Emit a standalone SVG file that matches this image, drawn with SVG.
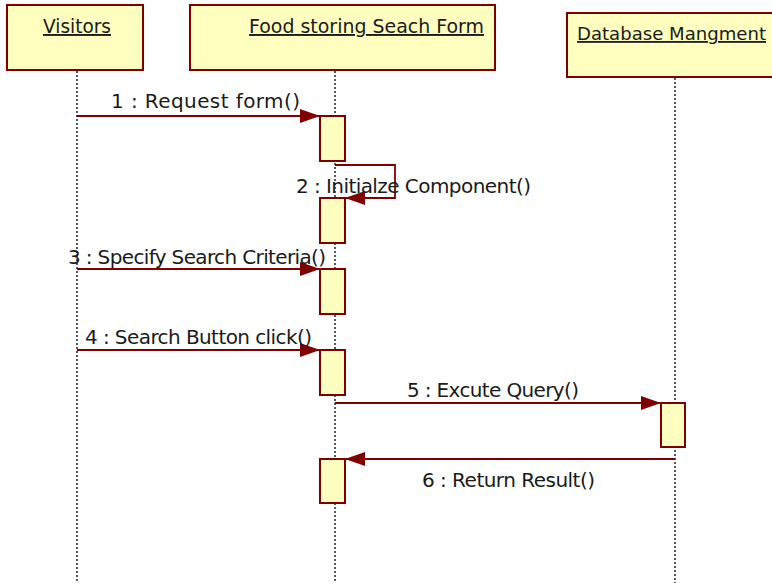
<svg xmlns="http://www.w3.org/2000/svg" width="772" height="583" viewBox="0 0 772 583">
<defs>
<style>
.obj{fill:#FFFFC0;stroke:#800000;stroke-width:2}
.act{fill:#FFFFC0;stroke:#800000;stroke-width:2}
.life{stroke:#222;stroke-width:1.5;stroke-dasharray:2 2;fill:none}
.msg{stroke:#800000;stroke-width:1.8;fill:none}
.t{font-family:"DejaVu Sans",sans-serif;font-size:19px;fill:#1a1a1a}
.l{font-size:20px}
.u{text-decoration:underline}
</style>
<marker id="ah" markerWidth="20" markerHeight="14" refX="20" refY="7" orient="auto" markerUnits="userSpaceOnUse">
<path d="M0,0 L20,7 L0,14 Z" fill="#800000"/>
</marker>
</defs>
<rect width="772" height="583" fill="#fff"/>
<g id="lifelines">
<line class="life" x1="77" y1="71" x2="77" y2="583"/>
<line class="life" x1="335" y1="71" x2="335" y2="583"/>
<line class="life" x1="675" y1="78" x2="675" y2="583"/>
</g>
<g id="visitors">
<rect class="obj" x="7" y="5" width="136" height="65"/>
<text class="t u" x="43" y="33" textLength="68" lengthAdjust="spacingAndGlyphs">Visitors</text>
</g>
<g id="form">
<rect class="obj" x="190" y="5" width="305" height="65"/>
<text class="t u" x="249" y="33" textLength="235" lengthAdjust="spacingAndGlyphs">Food storing Seach Form</text>
</g>
<g id="database">
<rect class="obj" x="567" y="13" width="206" height="64"/>
<text class="t u" x="577" y="40" style="font-size:18px" textLength="189" lengthAdjust="spacingAndGlyphs">Database Mangment</text>
</g>
<g id="activations">
<rect class="act" x="320" y="116" width="25" height="45"/>
<rect class="act" x="320" y="198" width="25" height="45"/>
<rect class="act" x="320" y="269" width="25" height="45"/>
<rect class="act" x="320" y="350" width="25" height="45"/>
<rect class="act" x="661" y="403" width="24" height="44"/>
<rect class="act" x="320" y="459" width="25" height="44"/>
</g>
<g id="connectors">
<line class="msg" x1="77" y1="116" x2="320" y2="116" marker-end="url(#ah)"/>
<polyline class="msg" points="335,165 395,165 395,198 345,198" marker-end="url(#ah)"/>
<line class="msg" x1="77" y1="269" x2="320" y2="269" marker-end="url(#ah)"/>
<line class="msg" x1="77" y1="350" x2="320" y2="350" marker-end="url(#ah)"/>
<line class="msg" x1="335" y1="403" x2="661" y2="403" marker-end="url(#ah)"/>
<line class="msg" x1="675" y1="459" x2="345" y2="459" marker-end="url(#ah)"/>
</g>
<g id="labels">
<text class="t l" x="111" y="108" textLength="189" lengthAdjust="spacing">1 : Request form()</text>
<text class="t l" x="296" y="193" textLength="235" lengthAdjust="spacing">2 : Initialze Component()</text>
<text class="t l" x="68" y="264" textLength="258" lengthAdjust="spacing">3 : Specify Search Criteria()</text>
<text class="t l" x="85" y="344" textLength="227" lengthAdjust="spacing">4 : Search Button click()</text>
<text class="t l" x="407" y="397" textLength="172" lengthAdjust="spacing">5 : Excute Query()</text>
<text class="t l" x="422" y="487" textLength="173" lengthAdjust="spacing">6 : Return Result()</text>
</g>
</svg>
